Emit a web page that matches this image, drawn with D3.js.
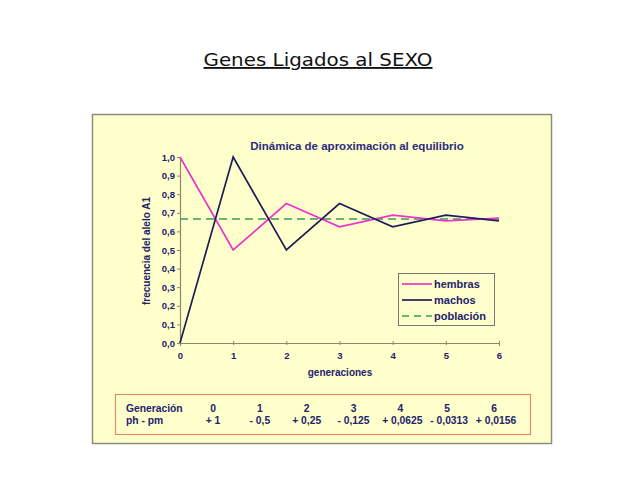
<!DOCTYPE html>
<html><head><meta charset="utf-8">
<script src="https://cdn.jsdelivr.net/npm/d3@7"></script>
<style>body{margin:0;background:#fff}svg{display:block}</style>
</head><body>
<svg id="c" width="638" height="479"></svg>
<script>
const generations = [0, 1, 2, 3, 4, 5, 6];
const hembras = [1, 0.5, 0.75, 0.625, 0.6875, 0.65625, 0.671875];
const machos = [0, 1, 0.5, 0.75, 0.625, 0.6875, 0.65625];
const poblacion = [0.6667, 0.6667, 0.6667, 0.6667, 0.6667, 0.6667, 0.6667];
const yTicks = [0, 0.1, 0.2, 0.3, 0.4, 0.5, 0.6, 0.7, 0.8, 0.9, 1.0];
const diffLabels = ["+ 1", "- 0,5", "+ 0,25", "- 0,125", "+ 0,0625", "- 0,0313", "+ 0,0156"];
const seriesNames = ["hembras", "machos", "población"];

const svg = d3.select("#c");
const navy = "#22226e";
const font = "Liberation Sans, Arial, sans-serif";

// page title
svg.append("text").attr("x", 318).attr("y", 66).attr("text-anchor", "middle")
  .attr("font-family", "DejaVu Sans, sans-serif").attr("font-size", 18.5)
  .attr("fill", "#111").attr("text-decoration", "underline").attr("textLength", 229)
  .attr("lengthAdjust", "spacingAndGlyphs")
  .text("Genes Ligados al SEXO");

// panel
svg.append("rect").attr("x", 92.5).attr("y", 114.5).attr("width", 459).attr("height", 329)
  .attr("fill", "#ffffcc").attr("stroke", "#8c8c7c").attr("stroke-width", 1.5);

svg.append("text").attr("x", 357).attr("y", 150).attr("text-anchor", "middle")
  .attr("font-family", font).attr("font-weight", "bold").attr("font-size", 11.5)
  .attr("fill", "#2b2b80").text("Dinámica de aproximación al equilibrio");

const x = d3.scaleLinear().domain([0, 6]).range([180, 499]);
const y = d3.scaleLinear().domain([0, 1]).range([343, 157]);

const xAxis = svg.append("g").attr("transform", "translate(0,343)")
  .call(d3.axisBottom(x).tickValues(generations).tickSize(3).tickFormat(d3.format("d")));
const yAxis = svg.append("g").attr("transform", "translate(180,0)")
  .call(d3.axisLeft(y).tickValues(yTicks).tickSize(3).tickFormat(d => d.toFixed(1).replace(".", ",")));
[xAxis, yAxis].forEach(g => {
  g.select(".domain").attr("stroke", "#8a8a6a").attr("stroke-width", 1.2);
  g.selectAll(".tick line").attr("stroke", "#8a8a6a");
  g.selectAll("text").attr("font-family", font).attr("font-weight", "bold")
    .attr("font-size", 9.5).attr("fill", navy);
});
xAxis.selectAll(".tick line").attr("y1", -2).attr("y2", 2);
xAxis.selectAll("text").attr("dy", "1.1em");
yAxis.selectAll("text").attr("x", -5);

svg.append("text").attr("x", 340).attr("y", 376).attr("text-anchor", "middle")
  .attr("font-family", font).attr("font-weight", "bold").attr("font-size", 10)
  .attr("fill", navy).text("generaciones");
svg.append("text").attr("transform", "translate(150,251) rotate(-90)").attr("text-anchor", "middle")
  .attr("font-family", font).attr("font-weight", "bold").attr("font-size", 10)
  .attr("fill", navy).text("frecuencia del alelo A1");

const line = d3.line().x((d, i) => x(generations[i])).y(d => y(d));
svg.append("path").datum(poblacion).attr("d", line).attr("fill", "none")
  .attr("stroke", "#3a9a5a").attr("stroke-width", 1.6).attr("stroke-dasharray", "8,5");
svg.append("path").datum(hembras).attr("d", line).attr("fill", "none")
  .attr("stroke", "#ee33cc").attr("stroke-width", 1.7);
svg.append("path").datum(machos).attr("d", line).attr("fill", "none")
  .attr("stroke", "#1e1e5a").attr("stroke-width", 1.7);

// legend
const lg = svg.append("g");
lg.append("rect").attr("x", 398.5).attr("y", 273.5).attr("width", 96).attr("height", 52)
  .attr("fill", "#ffffcc").attr("stroke", "#777").attr("stroke-width", 1);
const lcol = ["#ee33cc", "#1e1e5a", "#3a9a5a"];
seriesNames.forEach((n, i) => {
  const yy = 284 + i * 16;
  lg.append("line").attr("x1", 402).attr("x2", 432).attr("y1", yy).attr("y2", yy)
    .attr("stroke", lcol[i]).attr("stroke-width", 1.7)
    .attr("stroke-dasharray", i === 2 ? "7,5" : null);
  lg.append("text").attr("x", 434).attr("y", yy + 4).attr("font-family", font)
    .attr("font-weight", "bold").attr("font-size", 11).attr("fill", navy).text(n);
});

// table
svg.append("rect").attr("x", 115.5).attr("y", 394.5).attr("width", 415).attr("height", 40)
  .attr("fill", "none").attr("stroke", "#e08a6a").attr("stroke-width", 1.2);
const tx = d3.scalePoint().domain(generations).range([213, 494]);
const tf = (t) => t.attr("font-family", font).attr("font-weight", "bold").attr("font-size", 10.3).attr("fill", navy);
tf(svg.append("text").attr("x", 126).attr("y", 412).text("Generación"));
tf(svg.append("text").attr("x", 126).attr("y", 424).text("ph - pm"));
generations.forEach((g, i) => {
  tf(svg.append("text").attr("x", tx(g)).attr("y", 412).attr("text-anchor", "middle").text(g));
  tf(svg.append("text").attr("x", tx(g) + (i >= 4 ? 2 : 0)).attr("y", 424).attr("text-anchor", "middle").text(diffLabels[i]));
});
</script>
</body></html>
